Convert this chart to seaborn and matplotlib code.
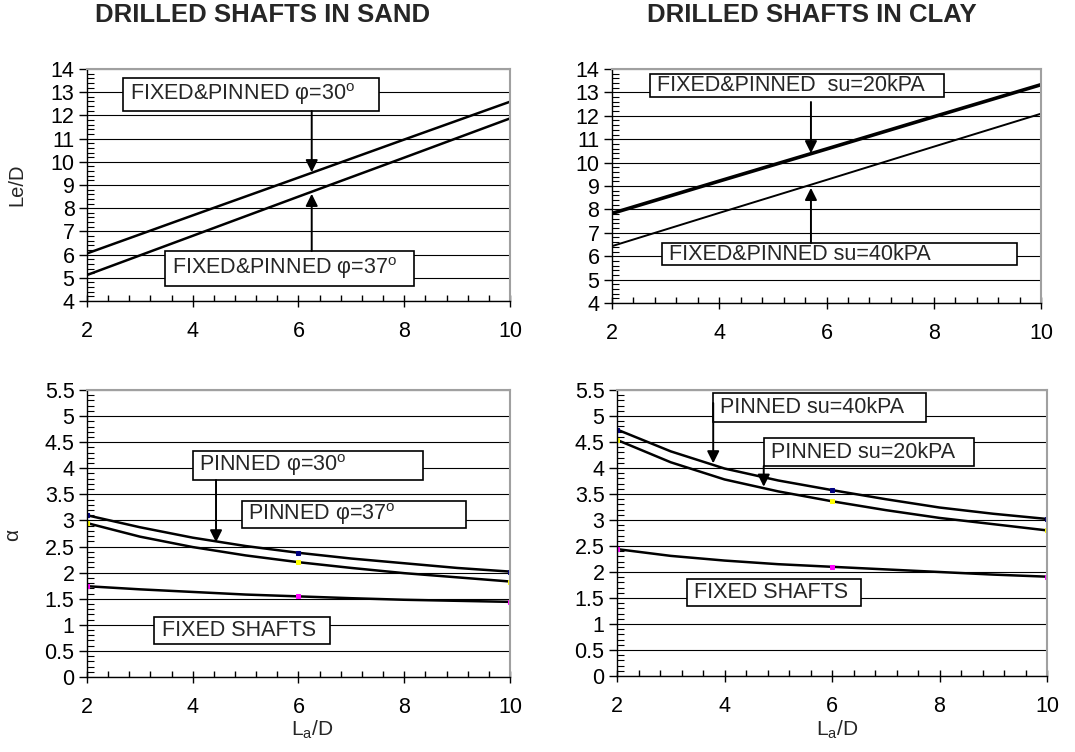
import matplotlib
matplotlib.use("Agg")
import matplotlib.pyplot as plt
import seaborn as sns
import pandas as pd
from matplotlib.patches import Rectangle
from matplotlib.ticker import MultipleLocator, FuncFormatter

# ---------------- data ----------------
la_d_top = [2, 4, 6, 8, 10]

sand_le_phi30 = [6.05, 7.69, 9.32, 10.96, 12.59]
sand_le_phi37 = [5.12, 6.81, 8.50, 10.18, 11.87]

clay_le_su20 = [7.83, 9.21, 10.58, 11.96, 13.33]
clay_le_su40 = [6.43, 7.85, 9.26, 10.68, 12.09]

la_d_bot = [2, 3, 4, 5, 6, 7, 8, 9, 10]

sand_alpha_phi30 = [3.10, 2.87, 2.67, 2.51, 2.38, 2.27, 2.18, 2.09, 2.02]
sand_alpha_phi37 = [2.95, 2.69, 2.49, 2.33, 2.20, 2.09, 1.99, 1.91, 1.83]
sand_alpha_fixed = [1.74, 1.68, 1.63, 1.58, 1.545, 1.51, 1.48, 1.46, 1.44]

clay_alpha_su40 = [4.74, 4.32, 3.99, 3.76, 3.575, 3.40, 3.24, 3.12, 3.02]
clay_alpha_su20 = [4.54, 4.11, 3.78, 3.55, 3.36, 3.19, 3.04, 2.92, 2.80]
clay_alpha_fixed = [2.44, 2.31, 2.22, 2.15, 2.10, 2.05, 2.00, 1.95, 1.91]

title_sand = "DRILLED SHAFTS IN SAND"
title_clay = "DRILLED SHAFTS IN CLAY"

sns.set_style("white")
plt.rcParams['font.family'] = ['Liberation Sans', 'DejaVu Sans']
plt.rcParams['mathtext.fontset'] = 'custom'
plt.rcParams['mathtext.rm'] = 'Liberation Sans'
plt.rcParams['mathtext.it'] = 'Liberation Sans'

W, H = 1075, 752
fig = plt.figure(figsize=(W / 100, H / 100), dpi=100)


def px_axes(l, t, r, b):
    return fig.add_axes([l / W, 1 - b / H, (r - l) / W, (b - t) / H])


ax_tl = px_axes(87, 69, 510, 301)
ax_tr = px_axes(612, 69, 1041, 303)
ax_bl = px_axes(87, 390, 510, 677)
ax_br = px_axes(617, 390, 1047, 676)

TICK_FS = 15.5
BOX_FS = 15.5
fmt = FuncFormatter(lambda v, p: "%g" % v)


def style_axes(ax, ylo, yhi, ymaj, ymin):
    ax.set_xlim(2, 10)
    ax.set_ylim(ylo, yhi)
    ax.xaxis.set_major_locator(MultipleLocator(2))
    ax.xaxis.set_minor_locator(MultipleLocator(0.4))
    ax.yaxis.set_major_locator(MultipleLocator(ymaj))
    ax.yaxis.set_minor_locator(MultipleLocator(ymin))
    ax.yaxis.set_major_formatter(fmt)
    ax.xaxis.set_major_formatter(fmt)
    ax.grid(True, which='major', axis='y', color='black', lw=0.8)
    ax.set_axisbelow(True)
    for s in ['top', 'right']:
        ax.spines[s].set_color('#a0a0a0')
        ax.spines[s].set_linewidth(1.5)
    for s in ['left', 'bottom']:
        ax.spines[s].set_color('black')
        ax.spines[s].set_linewidth(1.0)
    ax.tick_params(which='both', left=True, bottom=True, top=False, right=False,
                   colors='black')
    ax.tick_params(axis='x', which='major', direction='inout', length=9, width=1,
                   labelsize=TICK_FS, pad=10)
    ax.tick_params(axis='x', which='minor', direction='in', length=4, width=1)
    ax.tick_params(axis='y', which='major', direction='out', length=6, width=1,
                   labelsize=TICK_FS, pad=3)
    ax.tick_params(axis='y', which='minor', direction='in', length=5, width=0.8)
    ax.set_xlabel("")
    ax.set_ylabel("")


def box(ax, x0, x1, y0, y1, tx, text):
    ax.add_patch(Rectangle((x0, y0), x1 - x0, y1 - y0, facecolor='white',
                           edgecolor='black', lw=1.2, zorder=3))
    ax.text(tx, (y0 + y1) / 2, text, fontsize=BOX_FS, ha='left', va='center',
            zorder=4)


def arrow(ax, x, y0, y1):
    ax.annotate("", xy=(x, y1), xytext=(x, y0),
                arrowprops=dict(arrowstyle='-|>', color='black', lw=1.4,
                                mutation_scale=18, shrinkA=0, shrinkB=0),
                zorder=5)


deg = r"$^{\mathregular{o}}$"

# ---------- top-left ----------
df = pd.DataFrame({'x': la_d_top, 'a': sand_le_phi30, 'b': sand_le_phi37})
sns.lineplot(data=df, x='x', y='a', ax=ax_tl, color='black', lw=1.8, zorder=2)
sns.lineplot(data=df, x='x', y='b', ax=ax_tl, color='black', lw=1.8, zorder=2)
style_axes(ax_tl, 4, 14, 1, 0.2)
box(ax_tl, 2.68, 7.52, 12.19, 13.61, 2.81, "FIXED&PINNED \u03c6=30" + deg)
arrow(ax_tl, 6.25, 12.19, 9.55)
box(ax_tl, 3.475, 8.184, 4.647, 6.155, 3.61, "FIXED&PINNED \u03c6=37" + deg)
arrow(ax_tl, 6.25, 6.155, 8.62)

# ---------- top-right ----------
df = pd.DataFrame({'x': la_d_top, 'a': clay_le_su20, 'b': clay_le_su40})
sns.lineplot(data=df, x='x', y='a', ax=ax_tr, color='black', lw=2.6, zorder=2)
sns.lineplot(data=df, x='x', y='b', ax=ax_tr, color='black', lw=1.4, zorder=2)
style_axes(ax_tr, 4, 14, 1, 0.2)
box(ax_tr, 2.709, 8.19, 12.80, 13.786, 2.84, "FIXED&PINNED  su=20kPA")
arrow(ax_tr, 5.71, 12.59, 10.40)
box(ax_tr, 2.93, 9.55, 5.62, 6.56, 3.06, "FIXED&PINNED su=40kPA")
arrow(ax_tr, 5.71, 6.56, 8.92)

# ---------- bottom-left ----------
df = pd.DataFrame({'x': la_d_bot, 'a': sand_alpha_phi30, 'b': sand_alpha_phi37,
                   'c': sand_alpha_fixed})
for col, mc in [('a', '#000080'), ('b', '#ffff00'), ('c', '#ff00ff')]:
    sns.lineplot(data=df, x='x', y=col, ax=ax_bl, color='black', lw=1.8,
                 zorder=2, marker='s', markersize=2.5, markevery=[0, 4, 8],
                 markerfacecolor=mc, markeredgecolor=mc)
style_axes(ax_bl, 0, 5.5, 0.5, 0.1)
box(ax_bl, 4.005, 8.355, 3.775, 4.331, 4.12, "PINNED \u03c6=30" + deg)
arrow(ax_bl, 4.44, 3.775, 2.58)
box(ax_bl, 4.93, 9.17, 2.855, 3.373, 5.04, "PINNED \u03c6=37" + deg)
box(ax_bl, 3.267, 6.596, 0.633, 1.15, 3.42, "FIXED SHAFTS")

# ---------- bottom-right ----------
df = pd.DataFrame({'x': la_d_bot, 'a': clay_alpha_su40, 'b': clay_alpha_su20,
                   'c': clay_alpha_fixed})
for col, mc in [('a', '#000080'), ('b', '#ffff00'), ('c', '#ff00ff')]:
    sns.lineplot(data=df, x='x', y=col, ax=ax_br, color='black', lw=1.8,
                 zorder=2, marker='s', markersize=2.5, markevery=[0, 4, 8],
                 markerfacecolor=mc, markeredgecolor=mc)
style_axes(ax_br, 0, 5.5, 0.5, 0.1)
box(ax_br, 3.786, 7.749, 4.885, 5.442, 3.916, "PINNED su=40kPA")
arrow(ax_br, 3.79, 5.25, 4.09)
box(ax_br, 4.735, 8.642, 4.038, 4.577, 4.865, "PINNED su=20kPA")
arrow(ax_br, 4.73, 4.038, 3.64)
box(ax_br, 3.302, 6.54, 1.346, 1.866, 3.43, "FIXED SHAFTS")

# ---------- titles and labels ----------
fig.text(263 / W, 1 - 15 / H, title_sand, ha='center', va='center',
         fontsize=18.5, fontweight='bold')
fig.text(812 / W, 1 - 15 / H, title_clay, ha='center', va='center',
         fontsize=18.5, fontweight='bold')
fig.text(17 / W, 1 - 185 / H, "Le/D", rotation=90, ha='center', va='center',
         fontsize=14.5)
fig.text(13 / W, 1 - 535 / H, "\u03b1", rotation=90, ha='center', va='center',
         fontsize=15)
fig.text(312 / W, 1 - 730 / H, r"L$_{\mathregular{a}}$/D", ha='center',
         va='center', fontsize=15)
fig.text(837 / W, 1 - 730 / H, r"L$_{\mathregular{a}}$/D", ha='center',
         va='center', fontsize=15)

fig.savefig("out.png", dpi=100)
